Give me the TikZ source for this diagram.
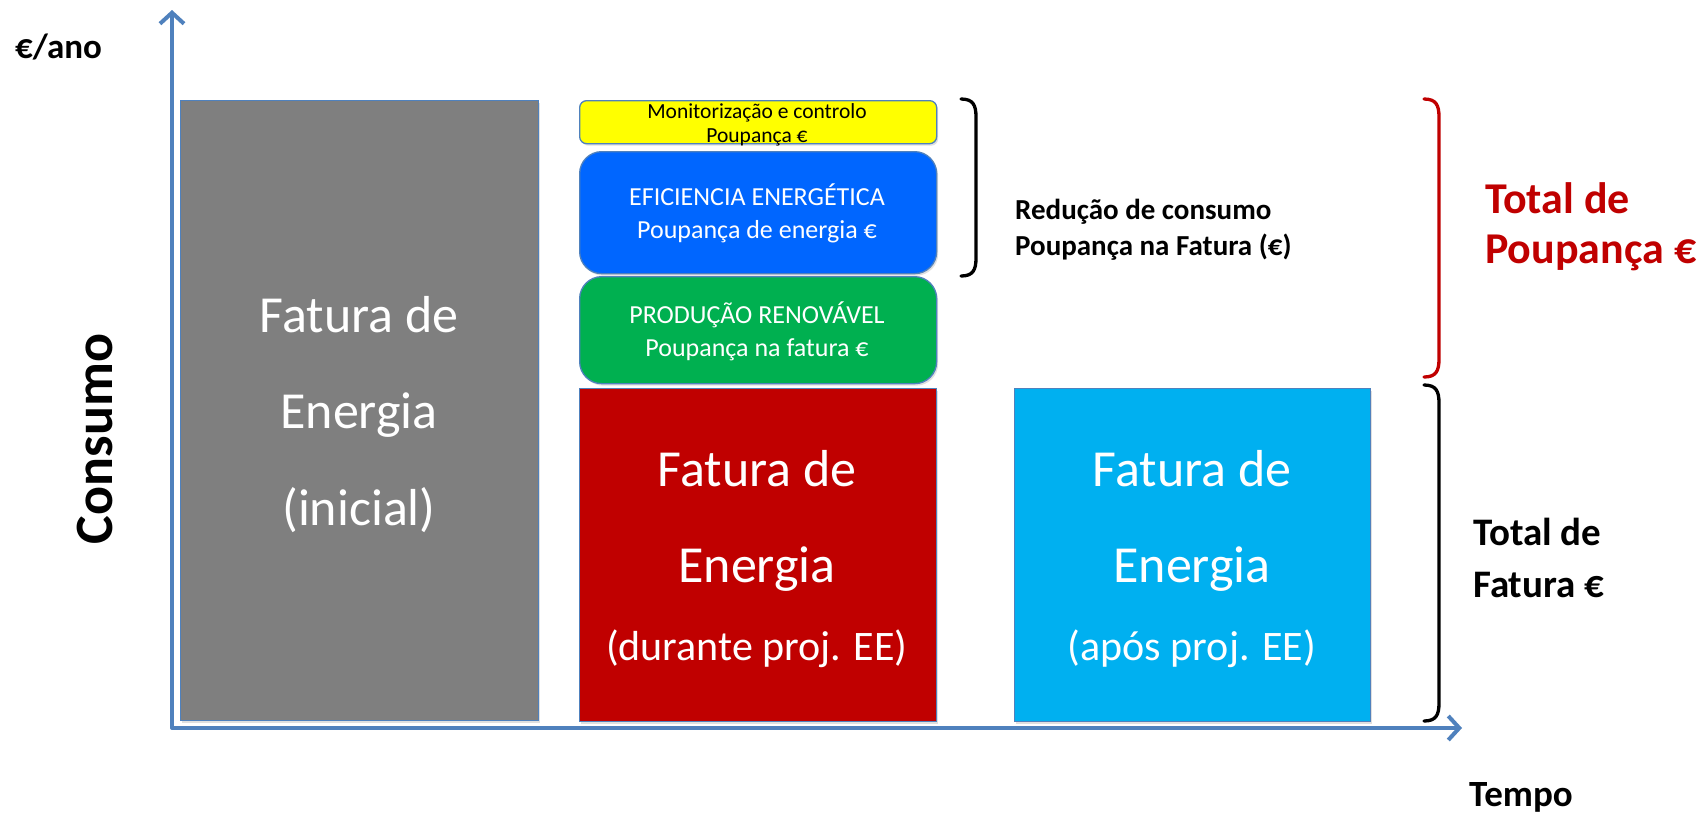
\documentclass[tikz,border=0pt]{standalone}
\usepackage{fontspec}
\setmainfont{Carlito}
\usetikzlibrary{arrows.meta,shadows}
\definecolor{axisblue}{HTML}{4F81BD}
\definecolor{bargray}{HTML}{7F7F7F}
\definecolor{barred}{HTML}{C00000}
\definecolor{barcyan}{HTML}{00B0F0}
\definecolor{baryellow}{HTML}{FFFF00}
\definecolor{barblue}{HTML}{0066FF}
\definecolor{bargreen}{HTML}{00B050}
\definecolor{txtred}{HTML}{C00000}
\begin{document}
\begin{tikzpicture}[x=1pt,y=-1pt,
  bar/.style={draw=axisblue, line width=1.3pt, inner sep=0pt, anchor=north west,
    drop shadow={opacity=0.25, shadow xshift=1.5pt, shadow yshift=-2pt}},
  rbar/.style={bar, rounded corners=#1},
  axisline/.style={draw=axisblue, line width=4pt, line cap=round, line join=round},
  wt/.style={text=white, inner sep=0pt, anchor=base},
  bt/.style={text=black, inner sep=0pt, anchor=base},
  bracepath/.style={line width=3.3pt, line cap=round},
  fsz/.style={font=\fontsize{#1}{#1}\selectfont},
  bsz/.style={font=\fontsize{#1}{#1}\selectfont\bfseries}
]
\useasboundingbox (0,0) rectangle (1706,815);
\fill[white] (0,0) rectangle (1706,815);

% axes
\coordinate (ytip) at (172,10);
\coordinate (orig) at (172,728);
\coordinate (xtip) at (1462,728);
\draw[axisline, {Straight Barb[length=11pt,width=24pt]}-{Straight Barb[length=11pt,width=24pt]}] (ytip) -- (orig) -- (xtip);

% bars
\node[bar, fill=bargray, minimum width=358pt, minimum height=620pt] (gray) at (180,100) {};
\node[rbar=7pt, fill=baryellow, minimum width=357pt, minimum height=43pt] (yellow) at (579,100) {};
\node[rbar=22pt, fill=barblue, minimum width=357pt, minimum height=122pt] (blue) at (579,151) {};
\node[rbar=22pt, fill=bargreen, minimum width=357pt, minimum height=107pt] (green) at (579,276) {};
\node[bar, fill=barred, minimum width=357pt, minimum height=333pt] (red) at (579,388) {};
\node[bar, fill=barcyan, minimum width=356pt, minimum height=333pt] (cyan) at (1014,388) {};

% texts in bars
\node[wt, fsz=52] (g1) at (359,332) {Fatura de};
\node[wt, fsz=52] (g2) at (359,428) {Energia};
\node[wt, fsz=52] (g3) at (359,525) {(inicial)};

\node[wt, fsz=52] (r1) at (757,486) {Fatura de};
\node[wt, fsz=52] (r2) at (757,582) {Energia};
\node[wt, fsz=42] (r3) at (757,660) {(durante proj. EE)};

\node[wt, fsz=52] (c1) at (1192,486) {Fatura de};
\node[wt, fsz=52] (c2) at (1192,582) {Energia};
\node[wt, fsz=42] (c3) at (1192,660) {(após proj. EE)};

\node[bt, fsz=21.5] (y1) at (757,118) {Monitorização e controlo};
\node[bt, fsz=21.5] (y2) at (757,142) {Poupança €};

\node[wt, fsz=26] (bl1) at (757,205) {EFICIENCIA ENERGÉTICA};
\node[wt, fsz=26] (bl2) at (757,238) {Poupança de energia €};

\node[wt, fsz=26] (gr1) at (757,323) {PRODUÇÃO RENOVÁVEL};
\node[wt, fsz=26] (gr2) at (757,356) {Poupança na fatura €};

% braces
\coordinate (b1t) at (961,99);
\coordinate (b1b) at (961,276);
\draw[bracepath] (b1t) .. controls (973,99) and (976,105) .. (976,117) -- (976,258) .. controls (976,270) and (973,276) .. (b1b);

\coordinate (b2t) at (1424,99);
\coordinate (b2b) at (1424,377);
\draw[bracepath, draw=txtred] (b2t) .. controls (1436,99) and (1439,105) .. (1439,117) -- (1439,359) .. controls (1439,371) and (1436,377) .. (b2b);

\coordinate (b3t) at (1424,385);
\coordinate (b3b) at (1424,721);
\draw[bracepath] (b3t) .. controls (1436,385) and (1439,391) .. (1439,403) -- (1439,703) .. controls (1439,715) and (1436,721) .. (b3b);

% side labels
\node[bt, anchor=base west, bsz=29] (red1) at (1015,219) {Redução de consumo};
\node[bt, anchor=base west, bsz=29] (red2) at (1015,255) {Poupança na Fatura (€)};

\node[bt, anchor=base west, text=txtred, bsz=44] (tp1) at (1485,213) {Total de};
\node[bt, anchor=base west, text=txtred, bsz=44] (tp2) at (1485,263) {Poupança €};

\node[bt, anchor=base west, bsz=39] (tf1) at (1473,545) {Total de};
\node[bt, anchor=base west, bsz=39] (tf2) at (1473,597) {Fatura €};

\node[bt, anchor=base west, bsz=37] (tempo) at (1469,806) {Tempo};
\node[bt, anchor=base west, bsz=35] (euro) at (15,58) {€/ano};
\node[bt, anchor=base, rotate=90, bsz=54] (consumo) at (112,439) {Consumo};
\end{tikzpicture}
\end{document}
